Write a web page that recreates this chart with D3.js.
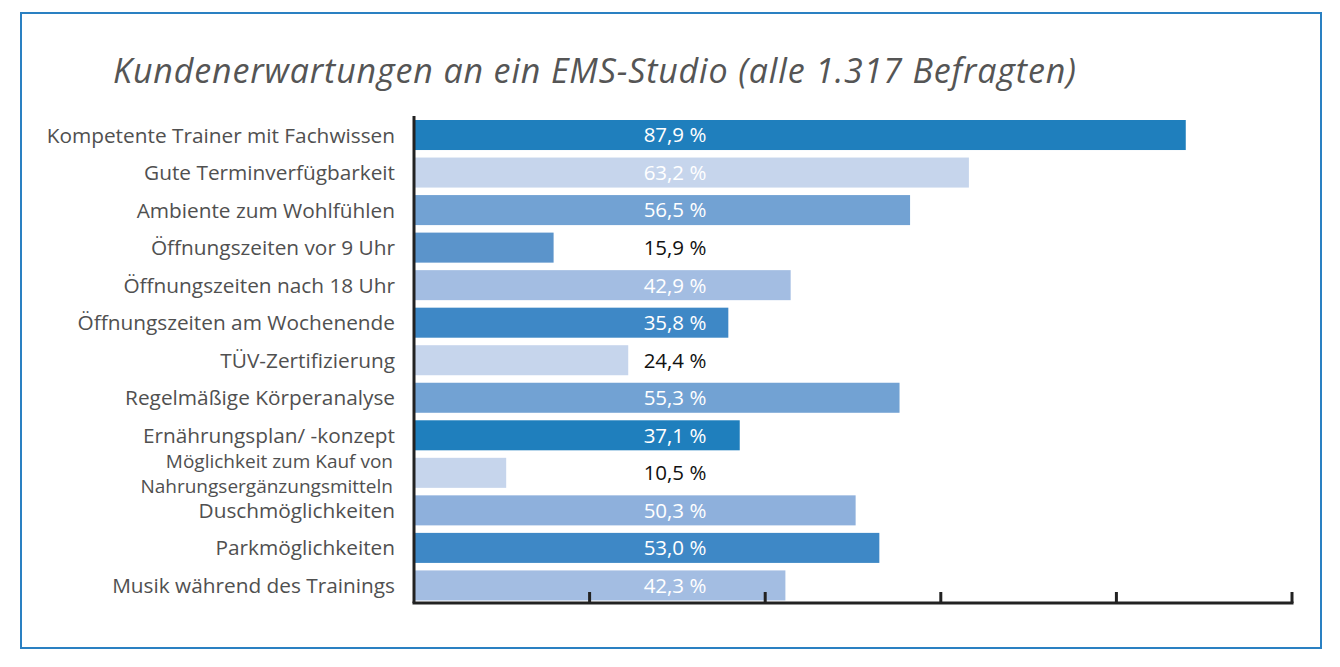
<!DOCTYPE html>
<html>
<head>
<meta charset="utf-8">
<script src="https://cdn.jsdelivr.net/npm/d3@7"></script>
<style>
  html, body { margin: 0; padding: 0; background: #fff; }
  svg { display: block; }
  text { font-family: "Open Sans", "Noto Sans", sans-serif; }
</style>
</head>
<body>
<svg id="chart" width="1340" height="667"></svg>
<script>
const categories = [
  "Kompetente Trainer mit Fachwissen",
  "Gute Terminverfügbarkeit",
  "Ambiente zum Wohlfühlen",
  "Öffnungszeiten vor 9 Uhr",
  "Öffnungszeiten nach 18 Uhr",
  "Öffnungszeiten am Wochenende",
  "TÜV-Zertifizierung",
  "Regelmäßige Körperanalyse",
  "Ernährungsplan/ -konzept",
  "Möglichkeit zum Kauf von|Nahrungsergänzungsmitteln",
  "Duschmöglichkeiten",
  "Parkmöglichkeiten",
  "Musik während des Trainings"
];
const values = [87.9, 63.2, 56.5, 15.9, 42.9, 35.8, 24.4, 55.3, 37.1, 10.5, 50.3, 53.0, 42.3];
const valueLabels = ["87,9 %", "63,2 %", "56,5 %", "15,9 %", "42,9 %", "35,8 %", "24,4 %", "55,3 %", "37,1 %", "10,5 %", "50,3 %", "53,0 %", "42,3 %"];
const barColors = ["#1f7fbd", "#c6d5ec", "#72a2d3", "#5b94cb", "#a3bde2", "#3e88c6", "#c6d5ec", "#72a2d3", "#1f7fbd", "#c6d5ec", "#8eb0dc", "#3e88c6", "#a3bde2"];
const labelColors = ["#fff", "#fff", "#fff", "#111", "#fff", "#fff", "#111", "#fff", "#fff", "#111", "#fff", "#fff", "#fff"];
const xTicks = [0, 20, 40, 60, 80, 100];
const title = "Kundenerwartungen an ein EMS-Studio (alle 1.317 Befragten)";

const svg = d3.select("#chart");

// frame
svg.append("rect")
  .attr("x", 21).attr("y", 13)
  .attr("width", 1300).attr("height", 635)
  .attr("fill", "none")
  .attr("stroke", "#2a80c2")
  .attr("stroke-width", 2);

// title
svg.append("text")
  .attr("x", 113).attr("y", 83)
  .attr("font-size", 34)
  .attr("letter-spacing", 0.85)
  .attr("font-style", "italic")
  .attr("fill", "#555")
  .text(title);

const x = d3.scaleLinear().domain([0, 100]).range([414, 1292]);
const y = d3.scaleBand().domain(d3.range(categories.length))
  .range([116.25, 604.2]).paddingInner(0.2).paddingOuter(0.1);

// bars
svg.append("g").selectAll("rect")
  .data(values)
  .join("rect")
  .attr("x", x(0))
  .attr("y", (d, i) => y(i))
  .attr("width", d => x(d) - x(0))
  .attr("height", y.bandwidth())
  .attr("fill", (d, i) => barColors[i]);

// value labels
svg.append("g").selectAll("text")
  .data(values)
  .join("text")
  .attr("x", 675)
  .attr("y", (d, i) => y(i) + y.bandwidth() / 2)
  .attr("dy", "0.36em")
  .attr("text-anchor", "middle")
  .attr("font-size", 20.5)
  .attr("fill", (d, i) => labelColors[i])
  .text((d, i) => valueLabels[i]);

// category labels
const lab = svg.append("g").selectAll("text")
  .data(categories)
  .join("text")
  .attr("text-anchor", "end")
  .attr("fill", "#505050")
  .attr("x", 395);
lab.each(function(d, i) {
  const t = d3.select(this);
  const parts = d.split("|");
  const cy = y(i) + y.bandwidth() / 2;
  if (parts.length === 1) {
    t.attr("y", cy).attr("dy", "0.36em").attr("font-size", 20.8).text(d);
  } else {
    t.attr("font-size", 19);
    t.append("tspan").attr("x", 393).attr("y", cy - 12).attr("dy", "0.36em").text(parts[0]);
    t.append("tspan").attr("x", 393).attr("y", cy + 13).attr("dy", "0.36em").text(parts[1]);
  }
});

// axes
const axisG = svg.append("g").attr("stroke", "#222").attr("stroke-width", 3).attr("fill", "none");
axisG.append("line")
  .attr("x1", x(0)).attr("x2", x(0))
  .attr("y1", 116).attr("y2", 603);
axisG.append("line")
  .attr("x1", x(0) - 1.5).attr("x2", x(100) + 1.5)
  .attr("y1", 603).attr("y2", 603);
axisG.selectAll("line.tick")
  .data(xTicks.slice(1))
  .join("line")
  .attr("class", "tick")
  .attr("x1", d => x(d)).attr("x2", d => x(d))
  .attr("y1", 603).attr("y2", 592);
</script>
</body>
</html>
